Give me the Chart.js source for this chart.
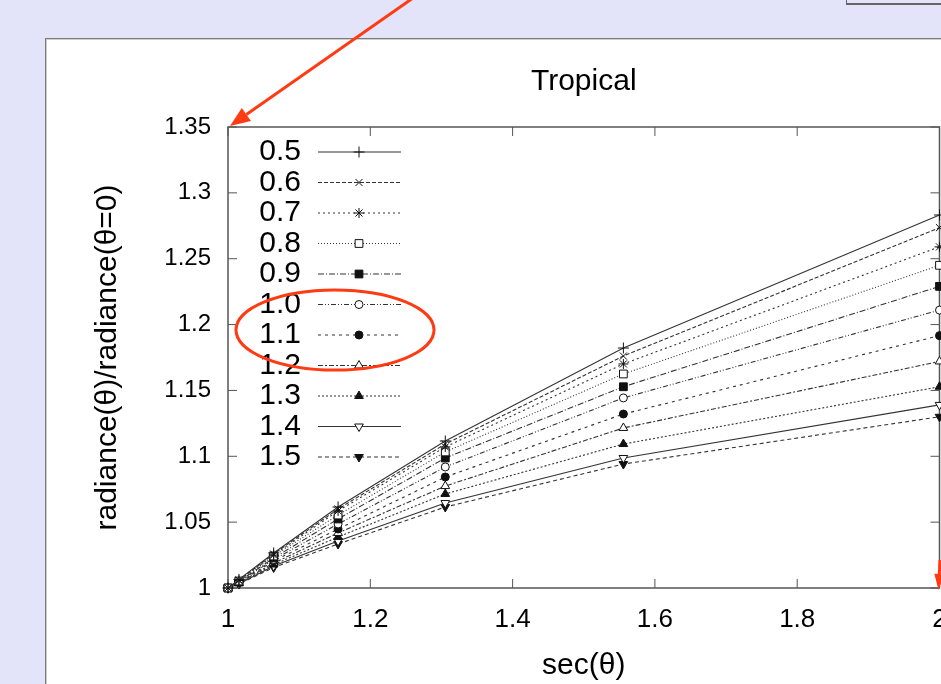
<!DOCTYPE html>
<html>
<head>
<meta charset="utf-8">
<script src="https://cdn.jsdelivr.net/npm/chart.js@4.4.0/dist/chart.umd.min.js"></script>
<style>
  html, body { margin: 0; padding: 0; width: 941px; height: 684px; overflow: hidden; background: #e3e3fa; }
  #panel { position: absolute; left: 45px; top: 38px; width: 920px; height: 680px; background: #fff;
           border: 1px solid #7a7a7a; box-shadow: inset 1px 1px 0 #cfcfcf; }
  #corner { position: absolute; left: 846px; top: -10px; width: 120px; height: 12px; border: 1px solid #666; border-bottom-width: 2px; }
  #chart { position: absolute; left: 0; top: 0; }
</style>
</head>
<body>
<div id="panel"></div>
<div id="corner"></div>
<canvas id="chart" width="946" height="684"></canvas>
<script>
// sec(theta) for theta = 0..60 deg
const secTheta = [1, 1.0154, 1.0642, 1.1547, 1.3054, 1.5557, 2];

const keyLabels = ["0.5", "0.6", "0.7", "0.8", "0.9", "1.0", "1.1", "1.2", "1.3", "1.4", "1.5"];

const ratio05 = [1, 1.0065, 1.0266, 1.0615, 1.1116, 1.1822, 1.2832];
const ratio06 = [1, 1.0060, 1.0258, 1.0600, 1.1093, 1.1761, 1.2736];
const ratio07 = [1, 1.0057, 1.0250, 1.0585, 1.1071, 1.1701, 1.2590];
const ratio08 = [1, 1.0053, 1.0243, 1.0554, 1.1033, 1.1625, 1.2450];
const ratio09 = [1, 1.0050, 1.0228, 1.0524, 1.0987, 1.1528, 1.2290];
const ratio10 = [1, 1.0046, 1.0216, 1.0486, 1.0919, 1.1443, 1.2110];
const ratio11 = [1, 1.0042, 1.0205, 1.0448, 1.0843, 1.1321, 1.1916];
const ratio12 = [1, 1.0039, 1.0190, 1.0418, 1.0774, 1.1215, 1.1720];
const ratio13 = [1, 1.0035, 1.0178, 1.0387, 1.0714, 1.1093, 1.1528];
const ratio14 = [1, 1.0032, 1.0167, 1.0357, 1.0645, 1.0987, 1.1390];
const ratio15 = [1, 1.0030, 1.0156, 1.0334, 1.0615, 1.0941, 1.1300];

const xTickValues = [1, 1.2, 1.4, 1.6, 1.8, 2];
const xTickLabels = ["1", "1.2", "1.4", "1.6", "1.8", "2"];
const yTickValues = [1, 1.05, 1.1, 1.15, 1.2, 1.25, 1.3, 1.35];
const yTickLabels = ["1", "1.05", "1.1", "1.15", "1.2", "1.25", "1.3", "1.35"];

const ratioSeries = [ratio05, ratio06, ratio07, ratio08, ratio09, ratio10, ratio11, ratio12, ratio13, ratio14, ratio15];

// gnuplot-ish line/point types
const looks = [
    { dash: [],               point: "cross",    r: 5.5, filled: false, rot: 0 },
    { dash: [4, 2],           point: "crossRot", r: 5,   filled: false, rot: 0 },
    { dash: [2, 3],           point: "star",     r: 5,   filled: false, rot: 0 },
    { dash: [1, 2],           point: "rect",     r: 5.5, filled: false, rot: 0 },
    { dash: [6, 2, 1, 2],     point: "rect",     r: 5.5, filled: true,  rot: 0 },
    { dash: [5, 2, 1, 2, 1, 2], point: "circle", r: 4,   filled: false, rot: 0 },
    { dash: [3, 4],           point: "circle",   r: 4,   filled: true,  rot: 0 },
    { dash: [5, 2, 2, 2],     point: "triangle", r: 5,   filled: false, rot: 0 },
    { dash: [2, 2],           point: "triangle", r: 5,   filled: true,  rot: 0 },
    { dash: [],               point: "triangle", r: 5,   filled: false, rot: 180 },
    { dash: [4, 3],           point: "triangle", r: 5,   filled: true,  rot: 180 },
];

const FONT = '"Liberation Sans", Arial, Helvetica, sans-serif';
const LINE = "#333";

const frameTicks = {
    id: "frameTicks",
    beforeDatasetsDraw(chart) {
        const { ctx, chartArea: a, scales: { x, y } } = chart;
        ctx.save();
        ctx.strokeStyle = "#555";
        ctx.lineWidth = 1.5;
        ctx.strokeRect(a.left, a.top, a.right - a.left, a.bottom - a.top);
        ctx.lineWidth = 1;
        ctx.beginPath();
        xTickValues.forEach(v => {
            const px = x.getPixelForValue(v);
            ctx.moveTo(px, a.bottom); ctx.lineTo(px, a.bottom - 9);
            ctx.moveTo(px, a.top); ctx.lineTo(px, a.top + 9);
        });
        yTickValues.forEach(v => {
            const py = y.getPixelForValue(v);
            ctx.moveTo(a.left, py); ctx.lineTo(a.left + 9, py);
            ctx.moveTo(a.right, py); ctx.lineTo(a.right - 9, py);
        });
        ctx.stroke();
        ctx.restore();
    }
};

const keyBox = {
    id: "keyBox",
    afterDatasetsDraw(chart) {
        const { ctx, chartArea: a } = chart;
        ctx.save();
        ctx.font = "30px " + FONT;
        ctx.textAlign = "right";
        ctx.textBaseline = "middle";
        chart.data.datasets.forEach((ds, i) => {
            const cy = a.top + 25 + i * 30.5;
            ctx.fillStyle = "#000";
            ctx.fillText(ds.label, a.left + 73, cy);
            ctx.strokeStyle = ds.borderColor;
            ctx.lineWidth = ds.borderWidth;
            ctx.setLineDash(ds.borderDash);
            ctx.beginPath();
            ctx.moveTo(a.left + 90, cy);
            ctx.lineTo(a.left + 173, cy);
            ctx.stroke();
            ctx.setLineDash([]);
            ctx.fillStyle = ds.pointBackgroundColor;
            ctx.strokeStyle = ds.pointBorderColor;
            ctx.lineWidth = 1;
            Chart.helpers.drawPoint(ctx, {
                pointStyle: ds.pointStyle, radius: ds.pointRadius,
                rotation: ds.pointRotation, borderWidth: 1
            }, a.left + 131, cy);
        });
        ctx.restore();
    }
};

function arrow(ctx, x0, y0, x1, y1, len, half) {
    const ang = Math.atan2(y1 - y0, x1 - x0);
    const bx = x1 - len * Math.cos(ang), by = y1 - len * Math.sin(ang);
    ctx.beginPath();
    ctx.moveTo(x0, y0);
    ctx.lineTo(bx, by);
    ctx.stroke();
    ctx.beginPath();
    ctx.moveTo(x1, y1);
    ctx.lineTo(bx + half * Math.sin(ang), by - half * Math.cos(ang));
    ctx.lineTo(bx - half * Math.sin(ang), by + half * Math.cos(ang));
    ctx.closePath();
    ctx.fill();
}

const markup = {
    id: "markup",
    afterDraw(chart) {
        const { ctx, scales: { x, y } } = chart;
        ctx.save();
        ctx.strokeStyle = "#ff3b14";
        ctx.fillStyle = "#ff3b14";
        ctx.lineWidth = 3;
        arrow(ctx, 413, -2, x.getPixelForValue(1) + 2, y.getPixelForValue(1.35) - 1, 20, 8);
        arrow(ctx, 940, 560, x.getPixelForValue(2) - 1, y.getPixelForValue(1) + 2, 16, 5);
        ctx.beginPath();
        ctx.ellipse(335, 330, 99, 40, 0, 0, Math.PI * 2);
        ctx.stroke();
        ctx.restore();
    }
};

new Chart(document.getElementById("chart"), {
    type: "line",
    data: {
        datasets: ratioSeries.map((vals, i) => ({
            label: keyLabels[i],
            data: vals.map((v, j) => ({ x: secTheta[j], y: v })),
            borderColor: LINE,
            borderWidth: 1.1,
            borderDash: looks[i].dash,
            pointStyle: looks[i].point,
            pointRadius: looks[i].r,
            pointRotation: looks[i].rot,
            pointBorderColor: "#111",
            pointBorderWidth: 1,
            pointBackgroundColor: looks[i].filled ? "#111" : "#fff",
            tension: 0,
            clip: false
        }))
    },
    options: {
        responsive: false,
        animation: false,
        devicePixelRatio: 1,
        layout: { padding: 0 },
        plugins: {
            legend: { display: false },
            tooltip: { enabled: false },
            title: {
                display: true,
                text: "Tropical",
                fullSize: false,
                color: "#000",
                font: { family: FONT, size: 30, weight: "normal" },
                padding: { top: 64, bottom: 27 }
            }
        },
        scales: {
            x: {
                type: "linear",
                min: 1, max: 2,
                afterBuildTicks: s => { s.ticks = xTickValues.map(v => ({ value: v })); },
                afterFit: s => { s.height = 96; s.paddingLeft = 0; s.paddingRight = 0; },
                grid: { display: false, drawTicks: false },
                border: { display: false },
                ticks: {
                    autoSkip: false, maxRotation: 0, padding: 16.4, color: "#000",
                    font: { family: FONT, size: 26 },
                    callback: v => xTickLabels[xTickValues.indexOf(v)]
                },
                title: {
                    display: true, text: "sec(θ)", color: "#000",
                    font: { family: FONT, size: 30 },
                    padding: { top: 0, bottom: 0 }
                }
            },
            y: {
                type: "linear",
                min: 1, max: 1.35,
                afterBuildTicks: s => { s.ticks = yTickValues.map(v => ({ value: v })); },
                afterFit: s => { s.width = 228; s.paddingTop = 0; s.paddingBottom = 0; },
                grid: { display: false, drawTicks: false },
                border: { display: false },
                ticks: {
                    autoSkip: false, padding: 17, color: "#000",
                    font: { family: FONT, size: 24 },
                    callback: v => yTickLabels[yTickValues.indexOf(v)]
                },
                title: {
                    display: true, text: "radiance(θ)/radiance(θ=0)", color: "#000",
                    font: { family: FONT, size: 30 },
                    padding: { top: 90, bottom: 0 }
                }
            }
        }
    },
    plugins: [frameTicks, keyBox, markup]
});
</script>
</body>
</html>
